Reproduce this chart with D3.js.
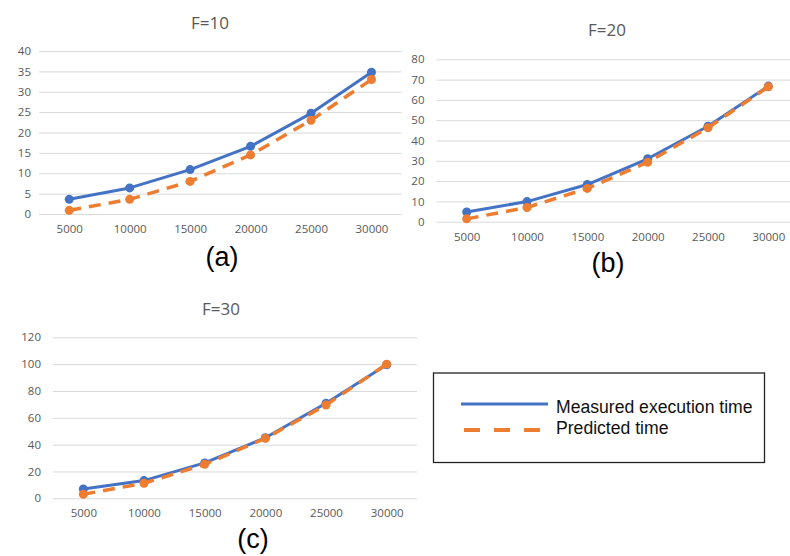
<!DOCTYPE html>
<html>
<head>
<meta charset="utf-8">
<script src="https://cdn.jsdelivr.net/npm/d3@7"></script>
<style>
  body { margin: 0; background: #fff; }
  svg { display: block; }
  .tick text { fill: #595959; font-family: "Open Sans", sans-serif; font-size: 11.5px; }
</style>
</head>
<body>
<script>
const sizes = [5000, 10000, 15000, 20000, 25000, 30000]

const measuredF10 = [3.6, 6.4, 10.9, 16.6, 24.7, 34.8]
const predictedF10 = [0.9, 3.6, 8.0, 14.5, 23.0, 33.0]
const measuredF20 = [4.8, 9.9, 18.3, 31.0, 47.0, 66.8]
const predictedF20 = [1.4, 7.0, 16.4, 29.3, 46.3, 66.5]
const measuredF30 = [6.9, 13.2, 26.4, 45.1, 70.8, 99.5]
const predictedF30 = [3.0, 11.2, 25.3, 44.7, 69.5, 100.0]

const ticksF10 = [0, 5, 10, 15, 20, 25, 30, 35, 40]
const ticksF20 = [0, 10, 20, 30, 40, 50, 60, 70, 80]
const ticksF30 = [0, 20, 40, 60, 80, 100, 120]

const seriesNames = ['Measured execution time', 'Predicted time']

const BLUE = '#4472c4'
const ORANGE = '#ed7d31'

const svg = d3.select('body')
  .append('svg')
  .attr('width', 790)
  .attr('height', 556)

function panel(p) {
  const x = d3.scalePoint()
    .domain(sizes)
    .range([p.x0, p.x1])
    .padding(0.5)
  const y = d3.scaleLinear()
    .domain([0, p.ticks[p.ticks.length - 1]])
    .range([p.yBase, p.yTop])

  const g = svg.append('g')

  const ya = g.append('g')
    .attr('transform', `translate(${p.x0},0)`)
    .call(d3.axisLeft(y).tickValues(p.ticks).tickSize(-(p.x1 - p.x0)).tickPadding(p.gap))
  ya.select('.domain').remove()
  ya.selectAll('.tick line').attr('stroke', '#d9d9d9').attr('stroke-width', 1)

  const xa = g.append('g')
    .attr('transform', `translate(0,${p.yBase})`)
    .call(d3.axisBottom(x).tickSize(0).tickPadding(11).tickFormat(d => d))
  xa.select('.domain').remove()

  g.append('text')
    .attr('x', p.titleX)
    .attr('y', p.titleY)
    .attr('text-anchor', 'middle')
    .attr('fill', '#595959')
    .style('font-family', '"Open Sans", sans-serif')
    .style('font-size', '17px')
    .text(p.title)

  g.append('text')
    .attr('x', p.capX)
    .attr('y', p.capY)
    .attr('text-anchor', 'middle')
    .attr('fill', '#000')
    .style('font-family', '"Liberation Sans", Arial, sans-serif')
    .style('font-size', '27px')
    .text(p.cap)

  const line = d3.line()
    .x((d, i) => x(sizes[i]))
    .y(d => y(d))

  const sets = [
    { v: p.measured, c: BLUE, dash: null },
    { v: p.predicted, c: ORANGE, dash: '12,8' }
  ]
  sets.forEach(s => {
    g.append('path')
      .attr('d', line(s.v))
      .attr('fill', 'none')
      .attr('stroke', s.c)
      .attr('stroke-width', s.dash ? 3.5 : 3)
      .attr('stroke-dasharray', s.dash)
      .attr('stroke-linejoin', 'round')
    g.selectAll(null)
      .data(s.v)
      .enter()
      .append('circle')
      .attr('cx', (d, i) => x(sizes[i]))
      .attr('cy', d => y(d))
      .attr('r', 4.5)
      .attr('fill', s.c)
  })
}

panel({ x0: 39, x1: 401.7, yBase: 214, yTop: 51, gap: 8, ticks: ticksF10,
  measured: measuredF10, predicted: predictedF10,
  title: 'F=10', titleX: 210, titleY: 29, cap: '(a)', capX: 222, capY: 266 })
panel({ x0: 436.5, x1: 798.5, yBase: 221.7, yTop: 59.3, gap: 12, ticks: ticksF20,
  measured: measuredF20, predicted: predictedF20,
  title: 'F=20', titleX: 607, titleY: 36, cap: '(b)', capX: 608, capY: 272 })
panel({ x0: 53, x1: 417, yBase: 498.3, yTop: 337.3, gap: 12, ticks: ticksF30,
  measured: measuredF30, predicted: predictedF30,
  title: 'F=30', titleX: 221, titleY: 315, cap: '(c)', capX: 253, capY: 548 })

// legend
const lg = svg.append('g')
lg.append('rect')
  .attr('x', 433.5)
  .attr('y', 373)
  .attr('width', 331)
  .attr('height', 89.5)
  .attr('fill', '#fff')
  .attr('stroke', '#222')
  .attr('stroke-width', 1.3)

const items = [
  { name: seriesNames[0], c: BLUE, dash: null, y: 404, ty: 413.3 },
  { name: seriesNames[1], c: ORANGE, dash: '16,14', y: 430, ty: 434 }
]
items.forEach(it => {
  lg.append('line')
    .attr('x1', it.dash ? 464 : 461)
    .attr('x2', it.dash ? 541 : 548)
    .attr('y1', it.y)
    .attr('y2', it.y)
    .attr('stroke', it.c)
    .attr('stroke-width', it.dash ? 4 : 3)
    .attr('stroke-dasharray', it.dash)
  lg.append('text')
    .attr('x', 556)
    .attr('y', it.ty)
    .attr('fill', '#111')
    .style('font-family', '"Liberation Sans", Arial, sans-serif')
    .style('font-size', '17.6px')
    .text(it.name)
})
</script>
</body>
</html>
